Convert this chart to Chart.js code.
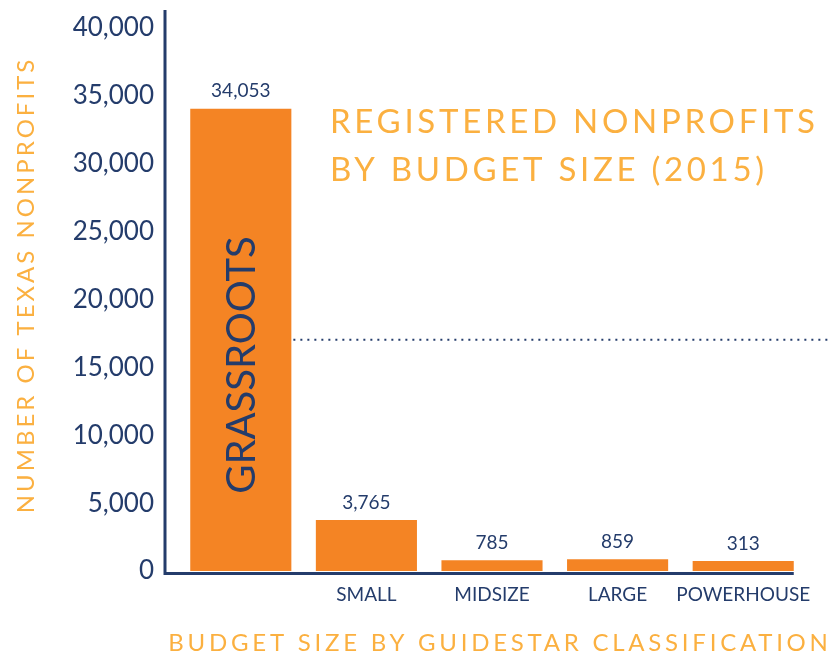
<!DOCTYPE html>
<html>
<head>
<meta charset="utf-8">
<script src="https://cdn.jsdelivr.net/npm/chart.js@4"></script>
<style>
  html, body { margin: 0; padding: 0; background: #fff; }
  #wrap { width: 829px; height: 655px; position: relative; }
</style>
</head>
<body>
<div id="wrap"><canvas id="budgetChart"></canvas></div>
<script>
// Registered nonprofits by budget size (2015) - single-series bar chart
// with labels drawn above bars and annotation text drawn by a small plugin.

const categories = ['GRASSROOTS', 'SMALL', 'MIDSIZE', 'LARGE', 'POWERHOUSE'];
const counts = [34053, 3765, 785, 859, 313];
const yTickValues = [0, 5000, 10000, 15000, 20000, 25000, 30000, 35000, 40000];

const NAVY = '#243c6b';
const BAR_ORANGE = '#f48424';
const TITLE_ORANGE = '#fbb040';
const FONT = 'Lato, "Open Sans", sans-serif';

function spacedText(ctx, text, x, y, spacing) {
    ctx.letterSpacing = spacing + 'px';
    ctx.fillText(text, x, y);
    ctx.letterSpacing = '0px';
}

const annotations = {
    id: 'annotations',
    beforeDatasetsDraw(chart) {
        const { ctx } = chart;
        const y = chart.scales.y;
        const first = chart.getDatasetMeta(0).data[0];
        // dotted midpoint line, half of the grassroots count
        const yMid = y.getPixelForValue(counts[0] / 2);
        ctx.save();
        ctx.strokeStyle = NAVY;
        ctx.lineWidth = 2;
        ctx.setLineDash([2, 5]);
        ctx.beginPath();
        ctx.moveTo(first.x + first.width / 2 + 2, yMid);
        ctx.lineTo(chart.width, yMid);
        ctx.stroke();
        ctx.restore();
    },
    afterDatasetsDraw(chart) {
        const { ctx, chartArea } = chart;
        const bars = chart.getDatasetMeta(0).data;
        ctx.save();
        ctx.fillStyle = NAVY;
        ctx.font = '19px ' + FONT;
        ctx.textAlign = 'center';
        ctx.textBaseline = 'bottom';
        bars.forEach((bar, i) => {
            ctx.fillText(counts[i].toLocaleString('en-US'), bar.x, bar.y - 8);
        });

        // category name of first bar written inside it
        const g = bars[0];
        ctx.translate(g.x, 365);
        ctx.rotate(-Math.PI / 2);
        ctx.font = '40px ' + FONT;
        ctx.textBaseline = 'middle';
        ctx.fillText(categories[0], 0, 1);
        ctx.restore();

        // axis lines
        const last = bars[bars.length - 1];
        ctx.save();
        ctx.strokeStyle = NAVY;
        ctx.lineWidth = 3;
        ctx.beginPath();
        ctx.moveTo(165, 10);
        ctx.lineTo(165, chartArea.bottom + 2.5);
        ctx.lineTo(last.x + last.width / 2, chartArea.bottom + 2.5);
        ctx.stroke();
        ctx.restore();
    },
    afterDraw(chart) {
        const { ctx } = chart;
        ctx.save();
        ctx.fillStyle = TITLE_ORANGE;
        ctx.textBaseline = 'middle';

        ctx.font = '33px ' + FONT;
        ctx.textAlign = 'left';
        spacedText(ctx, 'REGISTERED NONPROFITS', 330, 122, 3.7);
        spacedText(ctx, 'BY BUDGET SIZE (2015)', 330, 170, 3.7);

        ctx.font = '24px ' + FONT;
        ctx.textAlign = 'center';
        spacedText(ctx, 'BUDGET SIZE BY GUIDESTAR CLASSIFICATION', 500, 643, 3.75);

        ctx.translate(26, 285);
        ctx.rotate(-Math.PI / 2);
        spacedText(ctx, 'NUMBER OF TEXAS NONPROFITS', 0, 0, 3);
        ctx.restore();
    }
};

new Chart(document.getElementById('budgetChart'), {
    type: 'bar',
    data: {
        labels: categories,
        datasets: [{
            data: counts,
            backgroundColor: BAR_ORANGE,
            borderWidth: 0,
            categoryPercentage: 1,
            barPercentage: 0.805,
            minBarLength: 10
        }]
    },
    options: {
        responsive: true,
        maintainAspectRatio: false,
        animation: false,
        layout: { padding: { top: 28, right: 23, left: 0, bottom: 0 } },
        plugins: {
            legend: { display: false },
            tooltip: { enabled: false }
        },
        scales: {
            x: {
                grid: { display: false, drawTicks: false },
                border: { display: false },
                ticks: {
                    color: NAVY,
                    font: { family: FONT, size: 19 },
                    padding: 12,
                    maxRotation: 0,
                    autoSkip: false,
                    callback: (v, i) => (i === 0 ? '' : categories[i])
                },
                afterFit: (s) => { s.height = 84; s.paddingLeft = 0; s.paddingRight = 0; }
            },
            y: {
                min: 0,
                max: 40000,
                grid: { display: false, drawTicks: false },
                border: { display: false },
                afterBuildTicks: (s) => { s.ticks = yTickValues.map(v => ({ value: v })); },
                ticks: {
                    color: NAVY,
                    font: { family: FONT, size: 26 },
                    padding: 24,
                    callback: (v) => v.toLocaleString('en-US')
                },
                afterFit: (s) => { s.width = 178; s.paddingTop = 0; s.paddingBottom = 0; }
            }
        }
    },
    plugins: [annotations]
});
</script>
</body>
</html>
